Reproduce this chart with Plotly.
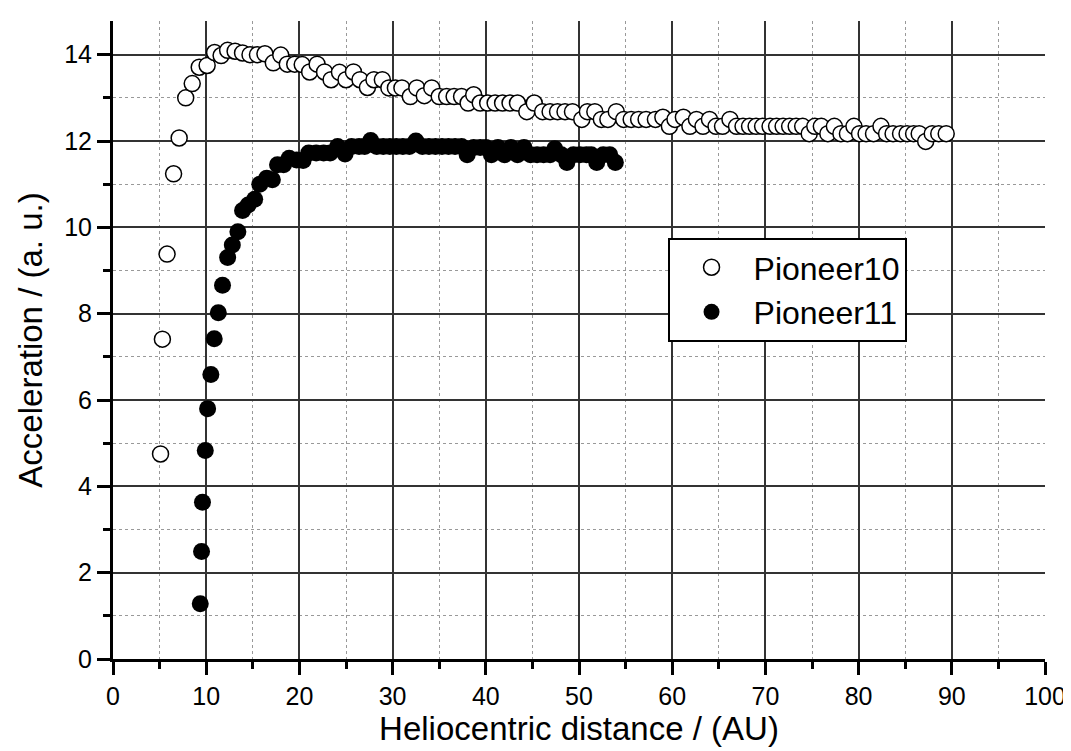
import plotly.graph_objects as go

# Pioneer 10 (open circles)
p10_dist = [
    5.1, 5.3, 5.8, 6.5, 7.1, 7.8, 8.5, 9.25, 10.1, 10.9,
    11.6, 12.3, 13.1, 13.9, 14.7, 15.5, 16.3, 17.2, 18.0, 18.7,
    19.5, 20.3, 21.1, 21.9, 22.7, 23.4, 24.3, 25.0, 25.8, 26.5,
    27.3, 28.0, 28.9, 29.6, 30.3, 31.0, 31.9, 32.6, 33.4, 34.2,
    35.0, 35.8, 36.6, 37.4, 38.1, 38.7, 39.4, 40.2, 41.0, 41.8,
    42.6, 43.4, 44.4, 45.2, 46.1, 46.9, 47.7, 48.5, 49.3, 50.3,
    50.9, 51.7, 52.4, 53.1, 54.0, 54.8, 55.6, 56.4, 57.2, 58.2,
    59.0, 59.7, 60.3, 61.2, 61.9, 62.6, 63.3, 64.0, 64.7, 65.4,
    66.2, 66.9, 67.6, 68.3, 69.0, 69.7, 70.5, 71.2, 71.9, 72.6,
    73.3, 74.0, 74.7, 75.3, 76.0, 76.7, 77.4, 78.1, 78.8, 79.5,
    80.1, 80.8, 81.6, 82.4, 83.0, 83.7, 84.5, 85.2, 85.9, 86.5,
    87.2, 87.9, 88.6, 89.4,
]
p10_acc = [
    4.75, 7.41, 9.38, 11.24, 12.07, 13.0, 13.33, 13.71, 13.75, 14.05,
    13.98, 14.1, 14.08, 14.04, 14.0, 14.0, 14.02, 13.81, 13.99, 13.78,
    13.78, 13.77, 13.6, 13.78, 13.6, 13.42, 13.59, 13.42, 13.6, 13.42,
    13.24, 13.42, 13.42, 13.23, 13.23, 13.23, 13.03, 13.23, 13.05, 13.23,
    13.03, 13.03, 13.03, 13.03, 12.88, 13.07, 12.88, 12.88, 12.88, 12.88,
    12.88, 12.88, 12.68, 12.88, 12.68, 12.68, 12.68, 12.68, 12.68, 12.5,
    12.68, 12.68, 12.5, 12.5, 12.68, 12.5, 12.5, 12.5, 12.5, 12.5,
    12.55, 12.34, 12.5, 12.55, 12.34, 12.5, 12.34, 12.5, 12.34, 12.34,
    12.5, 12.34, 12.34, 12.34, 12.34, 12.34, 12.34, 12.34, 12.34, 12.34,
    12.34, 12.34, 12.17, 12.34, 12.34, 12.17, 12.34, 12.17, 12.17, 12.34,
    12.17, 12.17, 12.17, 12.34, 12.17, 12.17, 12.17, 12.17, 12.17, 12.17,
    11.99, 12.17, 12.17, 12.17,
]

# Pioneer 11 (filled circles)
p11_dist = [
    9.36, 9.5, 9.6, 9.9, 10.15, 10.5, 10.86, 11.3, 11.75, 12.3,
    12.8, 13.4, 13.9, 14.5, 15.2, 15.75, 16.5, 17.1, 17.65, 18.3,
    18.9, 19.7, 20.4, 21.0, 21.8, 22.6, 23.3, 24.1, 24.9, 25.6,
    26.4, 27.0, 27.65, 28.3, 29.0, 29.7, 30.4, 31.1, 31.8, 32.5,
    33.2, 33.9, 34.6, 35.3, 36.0, 36.7, 37.4, 38.0, 38.7, 39.4,
    40.0, 40.6, 41.3, 42.0, 42.7, 43.4, 44.1, 44.8, 45.5, 46.2,
    46.9, 47.4, 48.1, 48.7, 49.4, 50.1, 50.8, 51.3, 51.9, 52.6,
    53.3, 53.9,
]
p11_acc = [
    1.28, 2.49, 3.63, 4.83, 5.80, 6.59, 7.42, 8.02, 8.66, 9.30,
    9.59, 9.90, 10.39, 10.52, 10.65, 11.0, 11.14, 11.1, 11.45, 11.45,
    11.6, 11.56, 11.55, 11.72, 11.72, 11.72, 11.72, 11.87, 11.7, 11.87,
    11.87, 11.87, 12.01, 11.87, 11.87, 11.87, 11.87, 11.87, 11.87, 12.0,
    11.87, 11.87, 11.87, 11.87, 11.87, 11.87, 11.87, 11.68, 11.85, 11.85,
    11.85, 11.68, 11.85, 11.68, 11.85, 11.68, 11.85, 11.68, 11.68, 11.68,
    11.68, 11.82, 11.68, 11.5, 11.68, 11.68, 11.68, 11.68, 11.5, 11.68,
    11.68, 11.5,
]

FONT = "Arial, Liberation Sans, sans-serif"

fig = go.Figure()
fig.add_trace(go.Scatter(
    x=p10_dist, y=p10_acc, mode="markers", name="Pioneer10",
    marker=dict(symbol="circle", size=16, color="white",
                line=dict(color="black", width=1.5)),
))
fig.add_trace(go.Scatter(
    x=p11_dist, y=p11_acc, mode="markers", name="Pioneer11",
    marker=dict(symbol="circle", size=17, color="black",
                line=dict(color="black", width=0)),
))

axis_common = dict(
    showline=True, linecolor="black", linewidth=3,
    ticks="outside", ticklen=13, tickwidth=3, tickcolor="black",
    showgrid=True, gridcolor="#333333", gridwidth=1.5,
    zeroline=False, mirror=False, automargin=False,
    tickfont=dict(family=FONT, size=25, color="black"),
)

fig.update_xaxes(
    range=[0, 100], dtick=10, tick0=0,
    minor=dict(dtick=5, ticks="outside", ticklen=7, tickwidth=3,
               tickcolor="black", showgrid=True, gridcolor="#999999",
               griddash="dot", gridwidth=1),
    title=dict(text="Heliocentric distance / (AU)", standoff=8,
               font=dict(family=FONT, size=33, color="black")),
    **axis_common,
)
fig.update_yaxes(
    range=[0, 14.78], dtick=2, tick0=0,
    minor=dict(dtick=1, ticks="outside", ticklen=7, tickwidth=3,
               tickcolor="black", showgrid=True, gridcolor="#999999",
               griddash="dot", gridwidth=1),
    title=dict(text="Acceleration / (a. u.)", standoff=12,
               font=dict(family=FONT, size=33, color="black")),
    **axis_common,
)

# the page body adds an 8 px offset, so the figure is 8 px smaller
fig.update_layout(
    width=1063, height=743,
    margin=dict(l=105, r=26, t=13, b=92),
    plot_bgcolor="white", paper_bgcolor="white",
    font=dict(family=FONT, color="black"),
    showlegend=True,
    legend=dict(
        x=0.595, y=0.66, xanchor="left", yanchor="top",
        bgcolor="white", bordercolor="black", borderwidth=2,
        font=dict(family=FONT, size=32, color="black"),
        itemwidth=74, tracegroupgap=0,
    ),
)

fig.write_html("out.html")
